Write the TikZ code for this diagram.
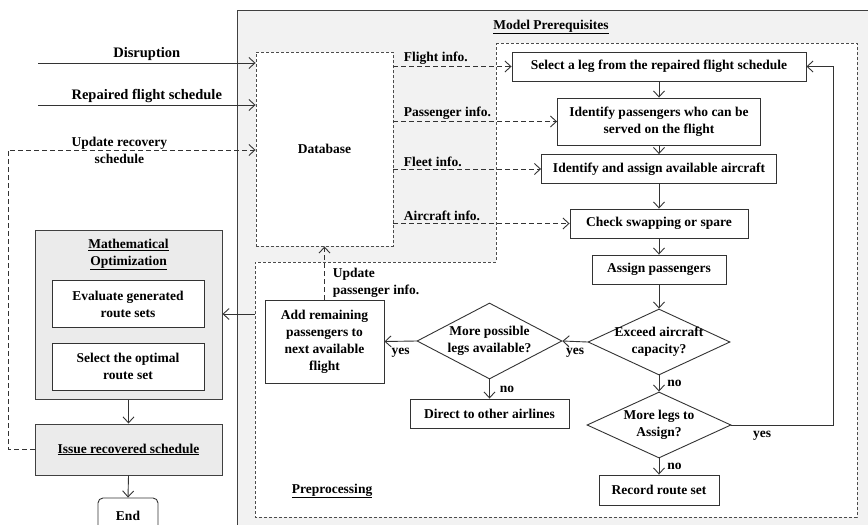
\documentclass[tikz,border=0pt]{standalone}
\usepackage{fontspec}
\setmainfont{Liberation Serif}
\usetikzlibrary{arrows.meta,shapes.geometric}

\begin{document}
\begin{tikzpicture}[x=1pt,y=-1pt,
    font=\fontsize{13.5}{17}\selectfont\bfseries,
    frame/.style={draw=black!75,line width=1pt},
    region/.style={draw=black!70,line width=0.9pt,densely dashed},
    stepbox/.style={draw=black!80,line width=0.9pt,fill=white,align=center,inner sep=2pt},
    choice/.style={diamond,draw=black!80,line width=0.9pt,fill=white,align=center,aspect=2.2,inner sep=-4pt},
    flow/.style={draw=black!80,line width=0.9pt,-{Straight Barb[length=6pt,width=11pt]}},
    infoflow/.style={flow,dash pattern=on 5pt off 3pt},
    heading/.style={align=center},
    inputtag/.style={inner sep=2pt,font=\fontsize{14.5}{17}\selectfont\bfseries},
    tag/.style={inner sep=2pt}]

  \useasboundingbox (0,0) rectangle (868,525);

  % --- grey frame of the model, white working area inside it ---
  \draw[frame,fill=black!5] (237,10) rectangle (872,532);
  \draw[region,fill=white] (496,43) -- (857,43) -- (857,517) -- (255,517)
                           -- (255,262) -- (496,262) -- cycle;
  \node[heading] at (551,27) {\underline{Model Prerequisites}};
  \node[heading] at (332,491) {\underline{Preprocessing}};

  % --- database ---
  \node[stepbox,region,minimum width=137pt,minimum height=194pt] (db) at (324.5,149) {Database};

  % --- the chain of steps on the right ---
  \node[stepbox,minimum width=294pt,minimum height=29pt] (sel) at (659,66.5) {Select a leg from the repaired flight schedule};
  \node[stepbox,minimum width=203pt,minimum height=47pt] (idp) at (659,121.5) {Identify passengers who can be\\served on the flight};
  \node[stepbox,minimum width=235pt,minimum height=29pt] (ida) at (659,169) {Identify and assign available aircraft};
  \node[stepbox,minimum width=178pt,minimum height=29pt] (chk) at (659,223.5) {Check swapping or spare};
  \node[stepbox,minimum width=134pt,minimum height=29pt] (asg) at (659,269.5) {Assign passengers};
  \node[choice,minimum width=142pt,minimum height=66pt] (exc) at (659,342) {Exceed aircraft\\capacity?};
  \node[choice,minimum width=144pt,minimum height=66pt] (mlg) at (659,425) {More legs to\\Assign?};
  \node[stepbox,minimum width=120pt,minimum height=30pt] (rec) at (659,490) {Record route set};

  % --- the overflow branch ---
  \node[choice,minimum width=145pt,minimum height=76pt] (mpl) at (489.5,341) {More possible\\legs available?};
  \node[stepbox,minimum width=159pt,minimum height=29pt] (dir) at (489.5,413.5) {Direct to other airlines};
  \node[stepbox,minimum width=119pt,minimum height=83pt] (add) at (324.5,341.5) {Add remaining\\passengers to\\next available\\flight};

  % --- optimization and the end ---
  \node[frame,fill=black!8,minimum width=187pt,minimum height=169pt] (mo) at (128.5,314.5) {};
  \node[heading] at (128.5,254.5) {\underline{Mathematical}\\\underline{Optimization}};
  \node[stepbox,minimum width=152pt,minimum height=47pt] (evl) at (128,304) {Evaluate generated\\route sets};
  \node[stepbox,minimum width=152pt,minimum height=47pt] (opt) at (128,366.5) {Select the optimal\\route set};
  \node[frame,heading,fill=black!8,minimum width=187pt,minimum height=51pt] (iss) at (128.5,449.5) {\underline{Issue recovered schedule}};
  \node[stepbox,rounded corners=5pt,minimum width=60pt,minimum height=36pt] (end) at (128,516) {End};

  % --- inputs from outside ---
  \coordinate (disin) at (38,63);
  \coordinate (repin) at (38,105);
  \coordinate (updturn) at (8,150);
  \draw[flow] (disin) -- node[above,inputtag] {Disruption} (disin -| db.west);
  \draw[flow] (repin) -- node[above,inputtag] {Repaired flight schedule} (repin -| db.west);
  \draw[infoflow] (iss.west) -| (updturn)
     -- node[pos=0.45,align=center] {Update recovery\\schedule} (updturn -| db.west);

  % --- database feeds the steps ---
  \draw[infoflow] (sel.west -| db.east) -- node[pos=0,anchor=south west,xshift=8pt,tag] {Flight info.} (sel.west);
  \draw[infoflow] (idp.west -| db.east) -- node[pos=0,anchor=south west,xshift=8pt,tag] {Passenger info.} (idp.west);
  \draw[infoflow] (ida.west -| db.east) -- node[pos=0,anchor=south west,xshift=8pt,tag] {Fleet info.} (ida.west);
  \draw[infoflow] (chk.west -| db.east) -- node[pos=0,anchor=south west,xshift=8pt,tag] {Aircraft info.} (chk.west);

  % --- main chain ---
  \draw[flow] (sel.south) -- (idp.north);
  \draw[flow] (idp.south) -- (ida.north);
  \draw[flow] (ida.south) -- (chk.north);
  \draw[flow] (chk.south) -- (asg.north);
  \draw[flow] (asg.south) -- (exc.north);
  \draw[flow] (exc.south) -- node[right,tag,xshift=6pt] {no} (mlg.north);
  \draw[flow] (mlg.south) -- node[right,tag,xshift=6pt] {no} (rec.north);
  \draw[flow] (mlg.east) -- node[below,pos=0.3,tag,yshift=-4pt] {yes} ++(102,0) |- (sel.east);

  % --- overflow ---
  \draw[flow] (exc.west) -- node[below,tag,yshift=-4pt] {yes} (mpl.east);
  \draw[flow] (mpl.west) -- node[below,tag,yshift=-4pt] {yes} (add.east);
  \draw[flow] (mpl.south) -- node[right,tag,xshift=8pt] {no} (dir.north);
  \draw[infoflow] (add.north) -- node[pos=0,anchor=south west,align=left,xshift=6pt,tag] {Update\\passenger info.} (db.south);

  % --- out to the optimization ---
  \coordinate (prein) at (255,314);
  \draw[flow] (prein) -- (prein -| mo.east);
  \draw[flow] (mo.south) -- (iss.north);
  \draw[flow] (iss.south) -- (end.north);
\end{tikzpicture}
\end{document}
